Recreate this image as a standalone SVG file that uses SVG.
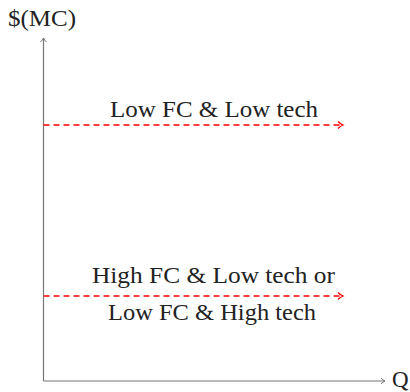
<svg xmlns="http://www.w3.org/2000/svg" width="410" height="392" viewBox="0 0 410 392">
<defs>
<marker id="ga" markerWidth="8" markerHeight="8" refX="6" refY="4" orient="auto" markerUnits="userSpaceOnUse">
<path d="M2,1 Q4,3.2 6,4 Q4,4.8 2,7" fill="none" stroke="#777" stroke-width="1"/>
</marker>
<marker id="ra" markerWidth="10" markerHeight="10" refX="7" refY="5" orient="auto" markerUnits="userSpaceOnUse">
<path d="M2,1.5 Q4.5,4 7,5 Q4.5,6 2,8.5" fill="none" stroke="#ff0000" stroke-width="1.3"/>
</marker>
<style>
.ax{stroke:#777;stroke-width:1.2;fill:none}
.rd{stroke:#ff0000;stroke-width:1.3;fill:none;stroke-dasharray:6,4}
text{font-family:"Liberation Serif","DejaVu Serif",serif;font-size:23px;fill:#222}
</style>
</defs>
<g id="connectors">
<line class="ax" x1="43.5" y1="381" x2="43.5" y2="38" marker-end="url(#ga)"/>
<line class="ax" x1="43.5" y1="381" x2="385" y2="381" marker-end="url(#ga)"/>
<line class="rd" x1="43.5" y1="125" x2="343" y2="125" marker-end="url(#ra)"/>
<line class="rd" x1="43.5" y1="296" x2="343" y2="296" marker-end="url(#ra)"/>
</g>
<g id="ylabel"><text x="8" y="26" textLength="68" lengthAdjust="spacingAndGlyphs">$(MC)</text></g>
<g id="xlabel"><text x="392" y="387">Q</text></g>
<g id="low"><text x="110" y="117" textLength="208" lengthAdjust="spacingAndGlyphs">Low FC &amp; Low tech</text></g>
<g id="mid">
<text x="92" y="283" textLength="243" lengthAdjust="spacingAndGlyphs">High FC &amp; Low tech or</text>
<text x="108" y="320" textLength="208" lengthAdjust="spacingAndGlyphs">Low FC &amp; High tech</text>
</g>
</svg>
